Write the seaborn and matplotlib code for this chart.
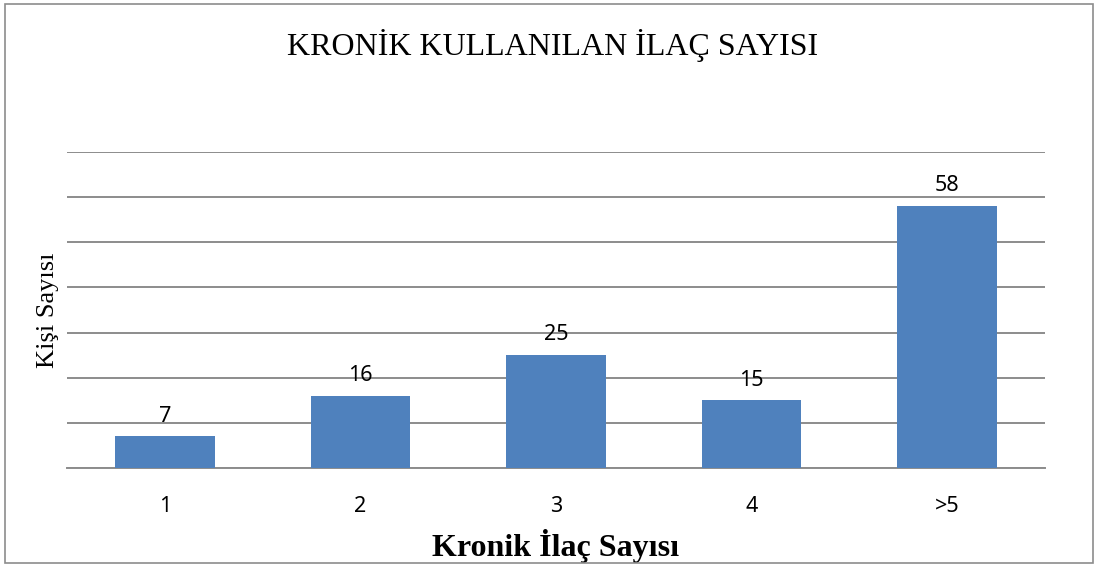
import matplotlib
matplotlib.use("Agg")
import matplotlib.pyplot as plt
import seaborn as sns
import pandas as pd
from matplotlib.patches import Rectangle

# Kronik kullanılan ilaç sayısı verisi
kategoriler = ["1", "2", "3", "4", ">5"]
kisi_sayisi = [7, 16, 25, 15, 58]

df = pd.DataFrame({"ilac": kategoriler, "kisi": kisi_sayisi})

sns.set_style("white")
plt.rcParams['font.family'] = ['Noto Sans', 'DejaVu Sans']
plt.rcParams['text.color'] = 'black'
plt.rcParams['axes.labelcolor'] = 'black'
plt.rcParams['xtick.color'] = 'black'

fig = plt.figure(figsize=(10.99, 5.67), dpi=100)
ax = fig.add_axes([67 / 1099, 1 - 468 / 567, 978 / 1099, 316 / 567])

sns.barplot(data=df, x="ilac", y="kisi", color="#4F81BD", width=0.51,
            saturation=1, linewidth=0, ax=ax, zorder=3)

ax.set_ylim(0, 70)
ax.set_yticks(range(0, 71, 10))
ax.set_yticklabels([])
ax.yaxis.grid(True, color="#8c8c8c", linewidth=1.4, zorder=0)
ax.tick_params(axis="both", length=0)
ax.tick_params(axis="x", labelsize=15.5, pad=20)
for s in ["top", "right", "left"]:
    ax.spines[s].set_visible(False)
ax.spines["bottom"].set_color("#8c8c8c")
ax.spines["bottom"].set_linewidth(1.4)

# değer etiketleri
for c in ax.containers:
    ax.bar_label(c, padding=7, fontsize=15.5)

ax.set_xlabel("Kronik İlaç Sayısı", family="Liberation Serif",
              fontsize=23, fontweight="bold", labelpad=9)
ax.set_ylabel("Kişi Sayısı", family="Liberation Serif", fontsize=19,
              labelpad=2)
fig.text(553 / 1099, 1 - 45 / 567, "KRONİK KULLANILAN İLAÇ SAYISI",
         family="Liberation Serif", fontsize=23, ha="center", va="center")

# dış çerçeve
fig.patches.append(Rectangle((5 / 1099, 4 / 567), 1088 / 1099, 559 / 567,
                             transform=fig.transFigure, fill=False,
                             edgecolor="#8c8c8c", linewidth=1.2))

fig.savefig("out.png", dpi=100)
